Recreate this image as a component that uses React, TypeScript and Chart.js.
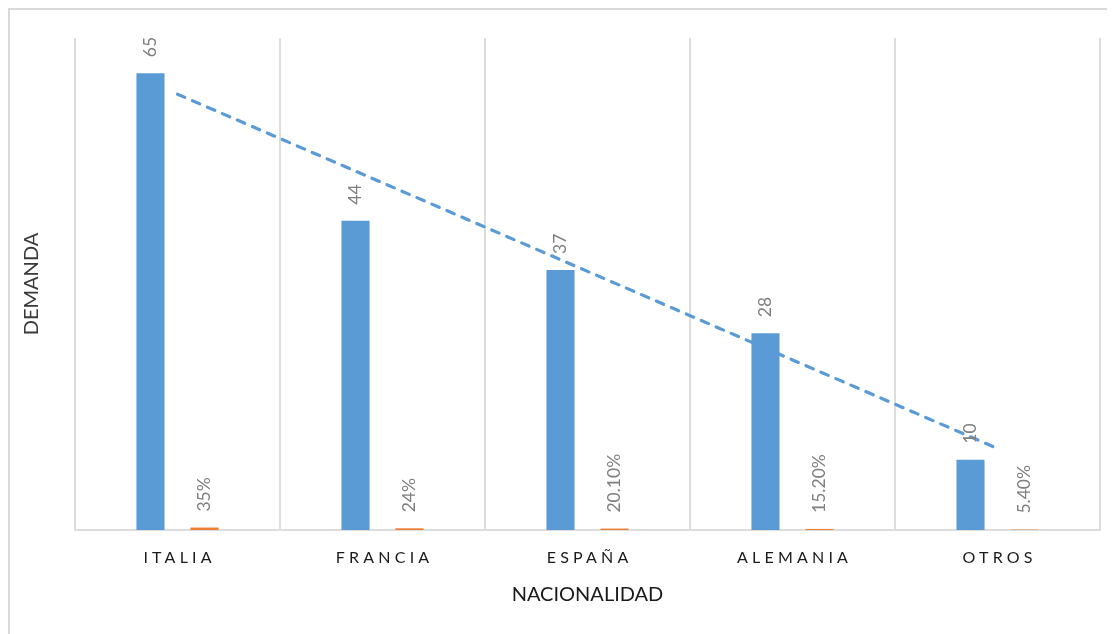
import React, { useEffect, useRef } from 'react';
import { Chart, registerables } from 'chart.js';

Chart.register(...registerables);

const categories = ['ITALIA', 'FRANCIA', 'ESPAÑA', 'ALEMANIA', 'OTROS'];
const demanda = [65, 44, 37, 28, 10];
const porcentaje = [0.35, 0.24, 0.201, 0.152, 0.054];
const demandaLabels = ['65', '44', '37', '28', '10'];
const porcentajeLabels = ['35%', '24%', '20.10%', '15.20%', '5.40%'];
const yMax = 70;
const xTitle = 'NACIONALIDAD';
const yTitle = 'DEMANDA';

// Linear trendline (least squares) of the demand series, like Excel's
function linearTrend(values: number[]): number[] {
  const n = values.length;
  const xs = values.map((_, i) => i + 1);
  const mx = xs.reduce((a, b) => a + b, 0) / n;
  const my = values.reduce((a, b) => a + b, 0) / n;
  let sxy = 0;
  let sxx = 0;
  for (let i = 0; i < n; i++) {
    sxy += (xs[i] - mx) * (values[i] - my);
    sxx += (xs[i] - mx) * (xs[i] - mx);
  }
  const slope = sxy / sxx;
  return xs.map((x) => my + slope * (x - mx));
}

const BLUE = '#5B9BD5';
const ORANGE = '#ED7D31';
const GRID = '#DDDDDD';
const LABEL_GRAY = '#7F7F7F';
const FONT = 'Lato, "Liberation Sans", sans-serif';

const overlayPlugin = {
  id: 'overlay',
  afterDraw(chart: any) {
    const ctx = chart.ctx as CanvasRenderingContext2D;
    const area = chart.chartArea;
    const labelSets = [demandaLabels, porcentajeLabels];

    // data labels (rotated)
    [0, 1].forEach((di) => {
      const meta = chart.getDatasetMeta(di);
      meta.data.forEach((el: any, i: number) => {
        ctx.save();
        ctx.translate(el.x, el.y - 16);
        ctx.rotate(-Math.PI / 2);
        ctx.font = `17.5px ${FONT}`;
        ctx.fillStyle = LABEL_GRAY;
        ctx.textAlign = 'left';
        ctx.textBaseline = 'middle';
        ctx.fillText(labelSets[di][i], 0, 0);
        ctx.restore();
      });
    });

    // category tick labels with letter spacing
    const xScale = chart.scales.x;
    ctx.save();
    ctx.font = `16px ${FONT}`;
    ctx.fillStyle = '#1A1A1A';
    ctx.textAlign = 'left';
    ctx.textBaseline = 'middle';
    const spacing = 4.2;
    (ctx as any).letterSpacing = `${spacing}px`;
    categories.forEach((c, i) => {
      const cx = xScale.getPixelForValue(i);
      const w = ctx.measureText(c).width;
      ctx.fillText(c, cx - (w - spacing) / 2, area.bottom + 28);
    });
    ctx.restore();

    // x title
    ctx.save();
    ctx.font = `20px ${FONT}`;
    ctx.fillStyle = '#1A1A1A';
    ctx.textAlign = 'center';
    ctx.textBaseline = 'middle';
    ctx.fillText(xTitle, (area.left + area.right) / 2, area.bottom + 65);
    ctx.restore();

    // y title
    ctx.save();
    ctx.translate(22, (area.top + area.bottom) / 2);
    ctx.rotate(-Math.PI / 2);
    ctx.font = `20px ${FONT}`;
    ctx.fillStyle = '#3A3A3A';
    ctx.textAlign = 'center';
    ctx.textBaseline = 'middle';
    ctx.fillText(yTitle, 0, 0);
    ctx.restore();
  },
};

export default function App() {
  const canvasRef = useRef<HTMLCanvasElement | null>(null);

  useEffect(() => {
    if (!canvasRef.current) return;
    const trend = linearTrend(demanda);
    const chart = new Chart(canvasRef.current, {
      type: 'bar',
      data: {
        labels: categories,
        datasets: [
          {
            type: 'bar',
            label: 'Demanda',
            data: demanda,
            backgroundColor: BLUE,
            categoryPercentage: 0.527,
            barPercentage: 0.52,
            order: 2,
          },
          {
            type: 'bar',
            label: 'Porcentaje',
            data: porcentaje,
            backgroundColor: ORANGE,
            categoryPercentage: 0.527,
            barPercentage: 0.52,
            order: 2,
          },
          {
            type: 'line',
            label: 'Tendencia',
            data: trend,
            borderColor: BLUE,
            borderWidth: 3.2,
            borderDash: [8, 8.3],
            borderCapStyle: 'round',
            pointRadius: 0,
            fill: false,
            order: 0,
          } as any,
        ],
      },
      options: {
        responsive: false,
        animation: false,
        devicePixelRatio: 1,
        layout: { padding: { left: 65, right: 15, top: 28, bottom: 104 } },
        plugins: {
          legend: { display: false },
          tooltip: { enabled: false },
          title: { display: false },
        },
        scales: {
          x: {
            display: true,
            offset: true,
            grid: {
              display: true,
              offset: true,
              color: GRID,
              lineWidth: 2,
              drawTicks: false,
              tickLength: 0,
            },
            border: { display: true, color: GRID, width: 2 },
            ticks: { display: false },
            afterFit: (scale: any) => {
              scale.height = 0;
            },
          },
          y: {
            display: false,
            min: 0,
            max: yMax,
          },
        },
      },
      plugins: [overlayPlugin],
    });
    return () => chart.destroy();
  }, []);

  return (
    <div
      style={{
        width: 1107,
        height: 626,
        borderLeft: '2px solid #D9D9D9',
        borderTop: '2px solid #D9D9D9',
        boxSizing: 'border-box',
        overflow: 'hidden',
        background: '#fff',
      }}
    >
      <canvas ref={canvasRef} width={1105} height={624} style={{ display: 'block', width: 1105, height: 624 }} />
    </div>
  );
}
